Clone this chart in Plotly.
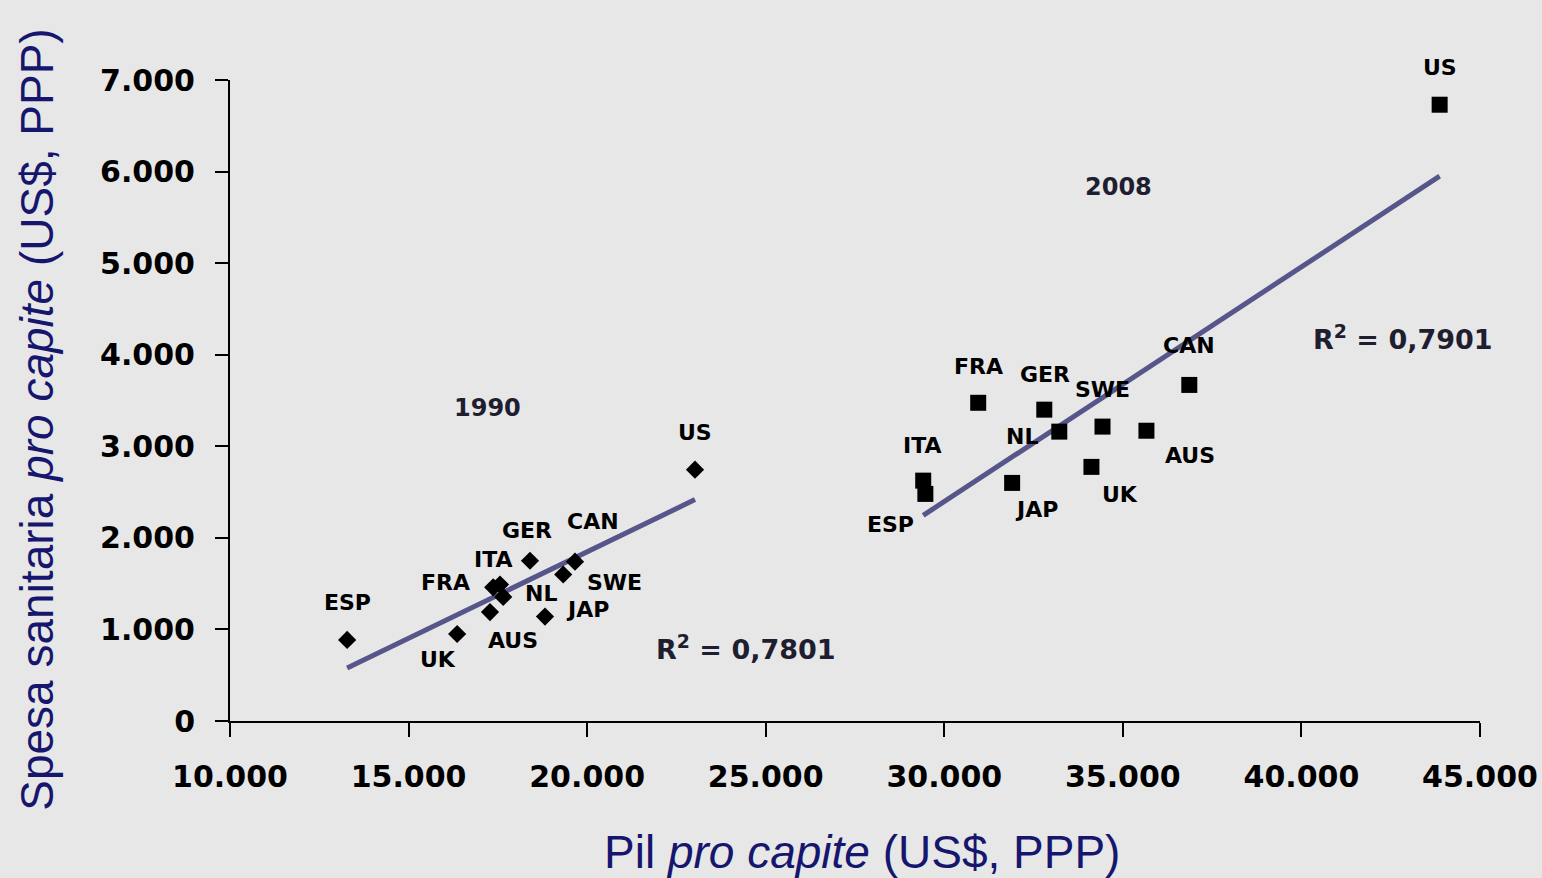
import numpy as np
import plotly.graph_objects as go

# ---------------- data ----------------
countries_1990 = ["ESP", "UK", "AUS", "FRA", "ITA", "NL", "GER", "CAN", "SWE", "JAP", "US"]
gdp_1990 = [13280, 16360, 17280, 17370, 17560, 17650, 18400, 19660, 19330, 18820, 23020]
health_1990 = [885, 950, 1190, 1460, 1490, 1355, 1750, 1740, 1600, 1140, 2745]

countries_2008 = ["FRA", "GER", "NL", "SWE", "AUS", "CAN", "UK", "JAP", "ITA", "ESP", "US"]
gdp_2008 = [30950, 32800, 33220, 34430, 35660, 36860, 34120, 31900, 29410, 29470, 43870]
health_2008 = [3475, 3400, 3160, 3215, 3170, 3670, 2775, 2600, 2625, 2480, 6730]

x_tickvals = [10000, 15000, 20000, 25000, 30000, 35000, 40000, 45000]
x_ticktext = ["10.000", "15.000", "20.000", "25.000", "30.000", "35.000", "40.000", "45.000"]
y_tickvals = [0, 1000, 2000, 3000, 4000, 5000, 6000, 7000]
y_ticktext = ["0", "1.000", "2.000", "3.000", "4.000", "5.000", "6.000", "7.000"]

r2_1990_text = "R<sup>2</sup> = 0,7801"
r2_2008_text = "R<sup>2</sup> = 0,7901"

# ---------------- label offsets (pixels: dx right, dy down) ----------------
offsets_1990 = {"ESP": (0, -37), "UK": (-19, 25), "AUS": (23, 28), "FRA": (-48, -5),
                "ITA": (-7, -25), "NL": (38, -3), "GER": (-3, -30), "CAN": (18, -40),
                "SWE": (51, 8), "JAP": (42, -7), "US": (0, -37)}
offsets_2008 = {"FRA": (0, -36), "GER": (1, -35), "SWE": (0, -37), "NL": (-37, 5),
                "ITA": (-1, -35), "ESP": (-35, 31), "JAP": (24, 27), "UK": (29, 28),
                "AUS": (44, 25), "CAN": (0, -39), "US": (0, -37)}

LINE_COLOR = "#56568a"
TEXT_DARK = "#1e1e30"
TITLE_COLOR = "#16166e"
BG = "#e7e7e7"

fig = go.Figure()


def trend(xs, ys):
    xs = np.asarray(xs, float)
    ys = np.asarray(ys, float)
    k, b = np.polyfit(xs, ys, 1)
    xx = np.array([xs.min(), xs.max()])
    return xx, k * xx + b


for xs, ys in [(gdp_1990, health_1990), (gdp_2008, health_2008)]:
    tx, ty = trend(xs, ys)
    fig.add_trace(go.Scatter(x=tx, y=ty, mode="lines",
                             line=dict(color=LINE_COLOR, width=5),
                             hoverinfo="skip", showlegend=False))

fig.add_trace(go.Scatter(x=gdp_1990, y=health_1990, mode="markers", text=countries_1990,
                         marker=dict(symbol="diamond", size=14, color="black"),
                         showlegend=False))
fig.add_trace(go.Scatter(x=gdp_2008, y=health_2008, mode="markers", text=countries_2008,
                         marker=dict(symbol="square", size=16, color="black"),
                         showlegend=False))

label_font = dict(family="DejaVu Sans", size=22, color="black", weight="bold")
for names, xs, ys, offs in [(countries_1990, gdp_1990, health_1990, offsets_1990),
                            (countries_2008, gdp_2008, health_2008, offsets_2008)]:
    for n, x, y in zip(names, xs, ys):
        dx, dy = offs[n]
        fig.add_annotation(x=x, y=y, text=n, showarrow=False, xshift=dx, yshift=-dy,
                           font=label_font, xanchor="center", yanchor="middle")

big_font = dict(family="DejaVu Sans", size=24, color=TEXT_DARK, weight="bold")
fig.add_annotation(x=17196, y=3418, text="1990", showarrow=False, font=big_font)
fig.add_annotation(x=34864, y=5832, text="2008", showarrow=False, font=big_font)
r2_font = dict(family="DejaVu Sans", size=27, color=TEXT_DARK, weight="bold")
fig.add_annotation(x=24448, y=808, text=r2_1990_text, showarrow=False, font=r2_font)
fig.add_annotation(x=42845, y=4193, text=r2_2008_text, showarrow=False, font=r2_font)

title_font = dict(family="Liberation Sans", size=46, color=TITLE_COLOR)
fig.add_annotation(xref="paper", yref="paper", x=0.5056, y=-0.204,
                   text="Pil <i>pro capite</i> (US$, PPP)", showarrow=False,
                   font=title_font, xanchor="center", yanchor="middle")
fig.add_annotation(xref="paper", yref="paper", x=-0.1544, y=0.47, textangle=-90,
                   text="Spesa sanitaria <i>pro capite</i> (US$, PPP)", showarrow=False,
                   font=title_font, xanchor="center", yanchor="middle")

tick_font = dict(family="DejaVu Sans", size=30, color="black", weight="bold")
fig.update_xaxes(range=[10000, 45000], tickvals=x_tickvals, ticktext=x_ticktext,
                 showline=True, linecolor="black", linewidth=2, mirror=False,
                 ticks="outside", ticklen=14, tickwidth=2, tickcolor="black",
                 showgrid=False, zeroline=False, tickfont=tick_font,
                 ticklabelstandoff=14, automargin=False)
fig.update_yaxes(range=[0, 7000], tickvals=y_tickvals, ticktext=y_ticktext,
                 showline=True, linecolor="black", linewidth=2, mirror=False,
                 ticks="outside", ticklen=13, tickwidth=2, tickcolor="black",
                 showgrid=False, zeroline=False, tickfont=tick_font,
                 ticklabelstandoff=14, automargin=False)

fig.update_layout(width=1542, height=878, autosize=False,
                  margin=dict(l=230, r=62, t=80, b=157),
                  paper_bgcolor=BG, plot_bgcolor=BG)

fig.write_html("out.html",
               config={"displayModeBar": False, "responsive": False},
               post_script="document.body.style.margin='0';"
                           "document.body.style.overflow='hidden';"
                           "document.body.style.background='" + BG + "';")
